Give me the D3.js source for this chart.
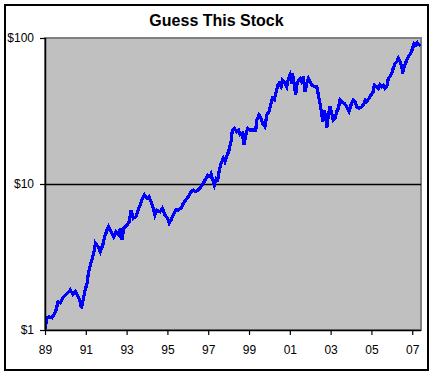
<!DOCTYPE html>
<html>
<head>
<meta charset="utf-8">
<script src="https://cdn.jsdelivr.net/npm/d3@7"></script>
<style>
  html, body { margin: 0; padding: 0; background: #ffffff; }
  svg { display: block; font-family: Arial, "Liberation Sans", sans-serif; }
</style>
</head>
<body>
<svg id="chart" width="435" height="376"></svg>
<script>
// ---- data (decimal year, price in $) ----
const years = [
  1989.00,1989.10,1989.21,1989.34,1989.43,1989.54,1989.64,1989.75,1989.87,1990.00,
  1990.13,1990.24,1990.36,1990.49,1990.62,1990.73,1990.78,1990.85,1990.95,1991.06,
  1991.14,1991.27,1991.39,1991.47,1991.60,1991.71,1991.83,1991.93,1992.04,1992.12,
  1992.24,1992.37,1992.48,1992.61,1992.69,1992.77,1992.86,1993.02,1993.13,1993.22,
  1993.33,1993.45,1993.54,1993.66,1993.74,1993.87,1993.99,1994.10,1994.20,1994.31,
  1994.39,1994.48,1994.64,1994.75,1994.88,1995.01,1995.09,1995.18,1995.29,1995.41,
  1995.53,1995.67,1995.78,1995.90,1996.02,1996.16,1996.27,1996.39,1996.51,1996.65,
  1996.76,1996.88,1996.98,1997.09,1997.14,1997.20,1997.30,1997.40,1997.47,1997.53,
  1997.63,1997.74,1997.82,1997.91,1998.02,1998.12,1998.18,1998.28,1998.40,1998.48,
  1998.56,1998.67,1998.75,1998.84,1998.94,1999.05,1999.21,1999.33,1999.38,1999.49,
  1999.59,1999.70,1999.78,1999.87,1999.98,2000.08,2000.14,2000.24,2000.31,2000.41,
  2000.47,2000.57,2000.63,2000.73,2000.85,2000.93,2001.01,2001.09,2001.13,2001.21,
  2001.29,2001.34,2001.42,2001.50,2001.58,2001.66,2001.75,2001.83,2001.91,2001.99,
  2002.07,2002.20,2002.32,2002.40,2002.48,2002.56,2002.61,2002.69,2002.76,2002.81,
  2002.89,2002.97,2003.05,2003.13,2003.22,2003.30,2003.38,2003.46,2003.54,2003.67,
  2003.79,2003.90,2004.00,2004.11,2004.20,2004.28,2004.39,2004.52,2004.60,2004.70,
  2004.77,2004.88,2004.98,2005.09,2005.14,2005.26,2005.34,2005.42,2005.50,2005.58,
  2005.67,2005.75,2005.83,2005.91,2005.99,2006.07,2006.16,2006.24,2006.32,2006.40,
  2006.49,2006.53,2006.60,2006.70,2006.81,2006.93,2007.02,2007.09,2007.19,2007.25,
  2007.35,2007.42
];
const prices = [
  1.02,1.21,1.23,1.21,1.27,1.37,1.56,1.53,1.66,1.74,
  1.80,1.88,1.76,1.83,1.69,1.56,1.41,1.56,1.83,2.09,
  2.51,2.94,3.35,3.93,3.72,3.44,3.82,4.36,4.84,5.10,
  4.71,4.36,4.71,4.47,4.97,4.13,4.97,5.24,5.52,6.64,
  5.82,5.97,6.46,7.18,7.77,8.41,7.98,8.19,7.56,6.82,
  6.13,6.64,6.46,6.82,6.13,5.82,5.38,5.67,6.13,6.64,
  6.64,6.82,7.38,7.77,8.19,8.86,9.10,8.86,9.10,9.58,
  10.1,10.9,11.5,11.2,11.7,10.9,9.84,10.9,10.7,12.1,
  13.9,15.0,14.2,15.4,17.1,19.5,23.4,24.1,22.8,23.4,
  21.7,22.2,18.5,21.7,24.1,23.4,23.4,23.4,27.4,29.7,
  28.2,25.4,24.7,29.7,31.3,35.7,38.6,37.6,41.8,47.6,
  48.9,46.4,51.6,50.2,46.4,52.9,55.8,48.9,57.3,48.9,
  40.7,47.6,51.6,52.9,50.2,54.3,42.9,48.9,52.9,50.2,
  47.6,46.4,46.4,40.7,35.7,30.5,26.7,32.1,28.9,24.1,
  29.7,33.8,30.5,27.4,28.2,31.3,33.0,37.6,36.6,35.7,
  33.8,31.3,34.8,37.6,36.6,33.8,33.0,33.8,34.8,37.6,
  36.6,38.6,40.7,42.9,47.6,46.4,45.2,47.6,46.4,47.6,
  45.2,46.4,52.9,54.3,57.3,62.0,67.1,68.8,72.6,68.8,
  63.6,57.3,63.6,68.8,74.5,78.5,85.0,92.0,89.5,92.9,
  89.5,91.0
];
const xTickValues = [1989,1991,1993,1995,1997,1999,2001,2003,2005,2007];
const xTickLabels = ["89","91","93","95","97","99","01","03","05","07"];
const yTickValues = [1,10,100];
const yTickLabels = ["$1","$10","$100"];
const gridValues = [10];
const titleText = "Guess This Stock";
const xDomain = [1989, 2007.43];
const yDomain = [1, 100];

// ---- layout ----
const svg = d3.select("#chart");
const plot = { left: 45, right: 421, top: 38, bottom: 330 };

const x = d3.scaleLinear().domain(xDomain).range([plot.left, plot.right]);
const y = d3.scaleLog().domain(yDomain).range([plot.bottom, plot.top]);

// outer frame
svg.append("rect")
  .attr("x", 5).attr("y", 5).attr("width", 423).attr("height", 365)
  .attr("fill", "#ffffff").attr("stroke", "#000000").attr("stroke-width", 2);

// title
svg.append("text")
  .attr("x", 216.5).attr("y", 26)
  .attr("text-anchor", "middle")
  .attr("font-size", "16px").attr("font-weight", "bold")
  .attr("fill", "#000")
  .text(titleText);

// plot area
svg.append("rect")
  .attr("x", plot.left).attr("y", plot.top)
  .attr("width", plot.right - plot.left).attr("height", plot.bottom - plot.top)
  .attr("fill", "#c0c0c0").attr("stroke", "#808080").attr("stroke-width", 2);

// gridline
svg.append("g").selectAll("line").data(gridValues).join("line")
  .attr("x1", plot.left).attr("x2", plot.right)
  .attr("y1", d => Math.round(y(d)) + 0.5).attr("y2", d => Math.round(y(d)) + 0.5)
  .attr("stroke", "#000").attr("stroke-width", 1.3);

// series line
const pts = years.map((t, i) => [t, prices[i]]);
const line = d3.line().x(d => x(d[0])).y(d => y(d[1]));
const clip = svg.append("clipPath").attr("id", "plotclip");
clip.append("rect").attr("x", plot.left).attr("y", plot.top - 4)
  .attr("width", plot.right - plot.left).attr("height", plot.bottom - plot.top + 4);
svg.append("path")
  .datum(pts)
  .attr("clip-path", "url(#plotclip)")
  .attr("d", line)
  .attr("fill", "none")
  .attr("stroke", "#0000ff")
  .attr("stroke-width", 3.2)
  .attr("stroke-linejoin", "miter")
  .attr("shape-rendering", "crispEdges");

// x axis
const xAxis = d3.axisBottom(x)
  .tickValues(xTickValues)
  .tickFormat((d, i) => xTickLabels[i])
  .tickSize(5).tickPadding(10);
const gx = svg.append("g").attr("transform", `translate(0,${plot.bottom})`).call(xAxis);
gx.select(".domain").attr("stroke", "#000").attr("stroke-width", 1.5)
  .attr("d", `M${plot.left},0.5H${plot.right}`);
gx.selectAll(".tick line").attr("stroke", "#000").attr("stroke-width", 1.2);
gx.selectAll(".tick text").attr("font-size", "12px").attr("fill", "#000")
  .attr("font-family", "Arial, 'Liberation Sans', sans-serif");

// y axis
const yAxis = d3.axisLeft(y)
  .tickValues(yTickValues)
  .tickFormat((d, i) => yTickLabels[i])
  .tickSize(5).tickPadding(6);
const gy = svg.append("g").attr("transform", `translate(${plot.left},0)`).call(yAxis);
gy.select(".domain").attr("stroke", "#000").attr("stroke-width", 1.5)
  .attr("d", `M0.5,${plot.top}V${plot.bottom}`);
gy.selectAll(".tick line").attr("stroke", "#000").attr("stroke-width", 1.2);
gy.selectAll(".tick text").attr("font-size", "12px").attr("fill", "#000")
  .attr("font-family", "Arial, 'Liberation Sans', sans-serif");
</script>
</body>
</html>
